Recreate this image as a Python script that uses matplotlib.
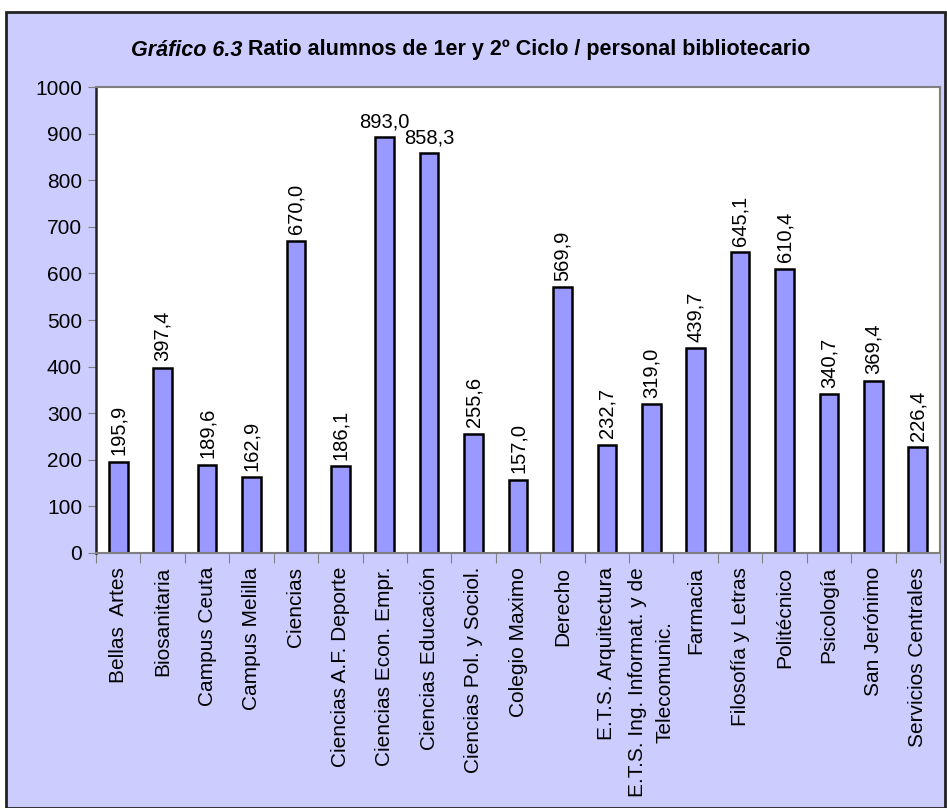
import matplotlib.pyplot as plt
from matplotlib.patches import Rectangle

plt.rcParams['font.family'] = ['Liberation Sans', 'DejaVu Sans']

# Data
centros = ["Bellas  Artes", "Biosanitaria", "Campus Ceuta", "Campus Melilla", "Ciencias",
           "Ciencias A.F. Deporte", "Ciencias Econ. Empr.", "Ciencias Educación",
           "Ciencias Pol. y Sociol.", "Colegio Maximo", "Derecho", "E.T.S. Arquitectura",
           "E.T.S. Ing. Informat. y de\nTelecomunic.", "Farmacia", "Filosofía y Letras",
           "Politécnico", "Psicología", "San Jerónimo", "Servicios Centrales"]
ratios = [195.9, 397.4, 189.6, 162.9, 670.0, 186.1, 893.0, 858.3, 255.6, 157.0,
          569.9, 232.7, 319.0, 439.7, 645.1, 610.4, 340.7, 369.4, 226.4]
horizontal_labels = ["Ciencias Econ. Empr.", "Ciencias Educación"]

fig = plt.figure(figsize=(9.47, 8.08), dpi=100, facecolor="white")

# Chart area background with border
fig.patches.append(Rectangle((6 / 947, 0), 939 / 947, 1 - 12 / 808, transform=fig.transFigure,
                             facecolor="#CCCCFF", edgecolor="#222222", linewidth=2, zorder=-5))

ax = fig.add_axes([96 / 947, 1 - 553 / 808, 844 / 947, 466 / 808])
ax.set_facecolor("white")

x = range(len(centros))
ax.bar(x, ratios, width=0.42, color="#9999FF", edgecolor="black", linewidth=1.8, zorder=2)

for i, v in enumerate(ratios):
    txt = f"{v:.1f}".replace(".", ",")
    if centros[i] in horizontal_labels:
        ax.text(i, v + 12, txt, ha="center", va="bottom", fontsize=14.5)
    else:
        ax.text(i, v + 14, txt, ha="center", va="bottom", rotation=90, fontsize=14.5)

ax.set_xlim(-0.5, len(centros) - 0.5)
ax.set_ylim(0, 1000)
ax.set_yticks(range(0, 1001, 100))
ax.tick_params(axis="y", labelsize=15, direction="out", length=6, colors="#808080",
               labelcolor="black", pad=4)

ax.set_xticks([i + 0.5 for i in range(-1, len(centros))], minor=False)
ax.set_xticklabels([])
ax.set_xticks(list(x), minor=True)
ax.set_xticklabels(centros, minor=True, rotation=90, fontsize=15, va="top", ha="center",
                   multialignment="center", linespacing=1.6)
ax.tick_params(axis="x", which="major", direction="out", length=7, colors="#808080")
ax.tick_params(axis="x", which="minor", length=0, pad=10)

for s in ["top", "right", "bottom"]:
    ax.spines[s].set_color("#808080")
    ax.spines[s].set_linewidth(1.5)
ax.spines["left"].set_color("#222222")
ax.spines["left"].set_linewidth(1.8)

fig.text(0.2555, 1 - 50 / 808, "Gráfico 6.3", ha="right", va="center", fontsize=15.5,
         fontweight="bold", fontstyle="italic")
fig.text(0.2555, 1 - 50 / 808, " Ratio alumnos de 1er y 2º Ciclo / personal bibliotecario",
         ha="left", va="center", fontsize=15.5, fontweight="bold")

fig.savefig("out.png", dpi=100, facecolor="white")
